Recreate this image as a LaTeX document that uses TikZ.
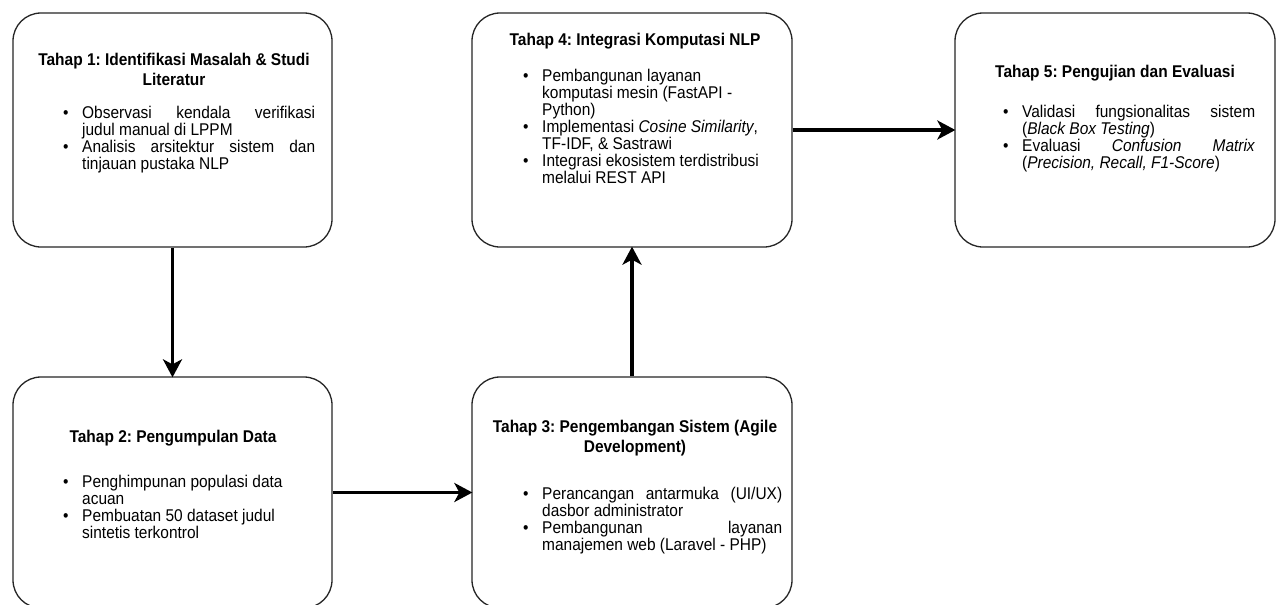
\documentclass[tikz,border=0pt]{standalone}
\usepackage{fontspec}
\setmainfont{Liberation Sans}[FakeStretch=0.91]
\usetikzlibrary{arrows.meta}
\frenchspacing
\newcommand{\bul}{\makebox[19pt][l]{\textbullet}}
\newcommand{\ind}{\hspace*{19pt}}
\newcommand{\jl}[2]{\makebox[#1pt][s]{#2}}
\tikzset{
  stagebox/.style={draw=black!85, line width=1.3pt, rounded corners=28pt, fill=white, inner sep=0pt},
  ttl/.style={font=\fontsize{17}{19.5}\selectfont\bfseries\frenchspacing, align=center, anchor=north, inner sep=0pt},
  body/.style={font=\fontsize{17}{17}\selectfont\frenchspacing, align=left, anchor=north west, inner sep=0pt},
  flow/.style={line width=3.5pt, -{Stealth[length=18pt,width=19pt,inset=5pt]}, shorten >=-1pt}
}
\begin{document}
\begin{tikzpicture}[x=1pt,y=1pt]
\clip (0,0) rectangle (1277,-605);
\fill[white] (0,0) rectangle (1277,-605);

\node[stagebox, minimum width=319pt, minimum height=234pt] (b1) at (172.5,-130) {};
\node[stagebox, minimum width=319pt, minimum height=231pt] (b2) at (172.5,-492.5) {};
\node[stagebox, minimum width=320pt, minimum height=231pt] (b3) at (632,-492.5) {};
\node[stagebox, minimum width=320pt, minimum height=234pt] (b4) at (632,-130) {};
\node[stagebox, minimum width=320pt, minimum height=234pt] (b5) at (1115,-130) {};

% Box 1
\node[ttl] (t1) at (174,-53) {Tahap 1: Identifikasi Masalah \& Studi\\Literatur};
\node[body] (d1) at (63,-106) {\bul\jl{233}{Observasi kendala verifikasi}\\
\ind judul manual di LPPM\\
\bul\jl{233}{Analisis arsitektur sistem dan}\\
\ind tinjauan pustaka NLP};

% Box 2
\node[ttl] (t2) at (173,-430) {Tahap 2: Pengumpulan Data};
\node[body] (d2) at (63,-475) {\bul Penghimpunan populasi data\\
\ind acuan\\
\bul Pembuatan 50 dataset judul\\
\ind sintetis terkontrol};

% Box 3
\node[ttl] (t3) at (635,-420) {Tahap 3: Pengembangan Sistem (Agile\\Development)};
\node[body] (d3) at (523,-487) {\bul\jl{240}{Perancangan antarmuka (UI/UX)}\\
\ind dasbor administrator\\
\bul\jl{240}{Pembangunan layanan}\\
\ind manajemen web (Laravel - PHP)};

% Box 4
\node[ttl] (t4) at (635,-33) {Tahap 4: Integrasi Komputasi NLP};
\node[body] (d4) at (523,-69) {\bul Pembangunan layanan\\
\ind komputasi mesin (FastAPI -\\
\ind Python)\\
\bul Implementasi \textit{Cosine Similarity},\\
\ind TF-IDF, \& Sastrawi\\
\bul Integrasi ekosistem terdistribusi\\
\ind melalui REST API};

% Box 5
\node[ttl] (t5) at (1115,-65) {Tahap 5: Pengujian dan Evaluasi};
\node[body] (d5) at (1003,-105) {\bul\jl{233}{Validasi fungsionalitas sistem}\\
\ind (\textit{Black Box Testing})\\
\bul\jl{233}{Evaluasi \textit{Confusion} \textit{Matrix}}\\
\ind (\textit{Precision, Recall, F1-Score})};

% Connectors
\draw[flow] (b1.south) -- (b2.north);
\draw[flow] (b2.east) -- (b3.west);
\draw[flow] (b3.north) -- (b4.south);
\draw[flow] (b4.east) -- (b5.west);
\end{tikzpicture}
\end{document}
